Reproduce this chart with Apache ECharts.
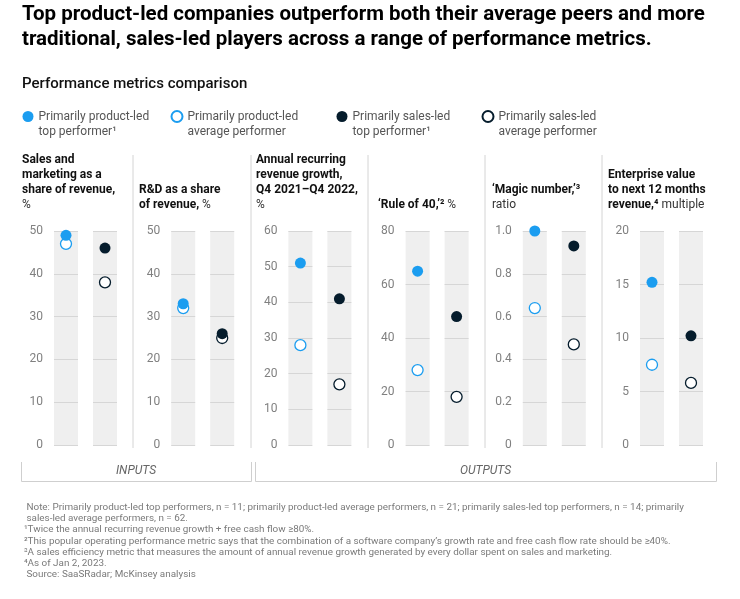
<!DOCTYPE html>
<html>
<head>
<meta charset="utf-8">
<script src="https://cdn.jsdelivr.net/npm/echarts@6/dist/echarts.min.js"></script>
<style>
html,body{margin:0;padding:0;background:#fff;}
#chart{width:740px;height:599px;}
</style>
</head>
<body>
<div id="chart"></div>
<script>
// ---- data ----
const groups = ['Primarily product-led', 'Primarily sales-led'];
const seriesNames = [
  'Primarily product-led\ntop performer\u00b9',
  'Primarily product-led\naverage performer',
  'Primarily sales-led\ntop performer\u00b9',
  'Primarily sales-led\naverage performer'
];
// panels: S&M share, R&D share, ARR growth, Rule of 40, Magic number, EV/NTM revenue
const productTop = [49, 33, 51, 65, 1.0, 15.2];
const productAvg = [47, 32, 28, 28, 0.64, 7.5];
const salesTop   = [46, 26, 41, 48, 0.93, 10.2];
const salesAvg   = [38, 25, 17, 18, 0.47, 5.8];
const axisMax      = [50, 50, 60, 80, 1.0, 20];
const axisInterval = [10, 10, 10, 20, 0.2, 5];
const tickDecimals = [0, 0, 0, 0, 1, 0];
const panelHeaders = [
  [['b','Sales and'],['b','marketing as a'],['b','share of revenue,'],['n','%']],
  [['b','R&D as a share'],['b','of revenue,','n',' %']],
  [['b','Annual recurring'],['b','revenue growth,'],['b','Q4 2021\u2013Q4 2022,'],['n','%']],
  [['b','\u2018Rule of 40,\u2019\u00b2','n',' %']],
  [['b','\u2018Magic number,\u2019\u00b3'],['n','ratio']],
  [['b','Enterprise value'],['b','to next 12 months'],['b','revenue,\u2074','n',' multiple']]
];
const sectionLabels = ['INPUTS', 'OUTPUTS'];
const footnotes = [
  ' Note: Primarily product-led top performers, n = 11; primarily product-led average performers, n = 21; primarily sales-led top performers, n = 14; primarily',
  ' sales-led average performers, n = 62.',
  '\u00b9Twice the annual recurring revenue growth + free cash flow \u226580%.',
  '\u00b2This popular operating performance metric says that the combination of a software company\u2019s growth rate and free cash flow rate should be \u226540%.',
  '\u00b3A sales efficiency metric that measures the amount of annual revenue growth generated by every dollar spent on sales and marketing.',
  '\u2074As of Jan 2, 2023.',
  ' Source: SaaSRadar; McKinsey analysis'
];

// ---- styling / layout ----
const FONT = 'Roboto';
const BLUE = '#1b9df0';
const DARK = '#051c2c';
const GRID_TOP = 231, GRID_H = 214, COL_W = 24;
const panelLeft = p => 54 + 117.2 * p;
const colOffset = [0, 39];

const grids = [], xAxes = [], yAxes = [], series = [];
for (let p = 0; p < 6; p++) {
  for (let c = 0; c < 2; c++) {
    const gi = p * 2 + c;
    grids.push({
      left: panelLeft(p) + colOffset[c], top: GRID_TOP, width: COL_W, height: GRID_H,
      show: true, backgroundColor: '#efefef', borderWidth: 0
    });
    xAxes.push({ type: 'category', gridIndex: gi, data: [groups[c]], show: false });
    const dec = tickDecimals[p];
    yAxes.push({
      type: 'value', gridIndex: gi, min: 0, max: axisMax[p], interval: axisInterval[p],
      axisLine: { show: false }, axisTick: { show: false },
      axisLabel: {
        show: c === 0, color: '#808080', fontSize: 12, fontFamily: FONT, margin: 11,
        formatter: v => (v === 0 ? '0' : v.toFixed(dec))
      },
      splitLine: { show: true, lineStyle: { color: '#d6d6d6', width: 1 } }
    });
    const pairs = c === 0
      ? [[seriesNames[1], productAvg, BLUE, false], [seriesNames[0], productTop, BLUE, true]]
      : [[seriesNames[3], salesAvg, DARK, false], [seriesNames[2], salesTop, DARK, true]];
    pairs.forEach(([name, arr, col, filled]) => {
      series.push({
        name, type: 'scatter', xAxisIndex: gi, yAxisIndex: gi, clip: false,
        symbol: 'circle', symbolSize: 11, z: filled ? 4 : 3,
        itemStyle: filled ? { color: col, opacity: 1 } : { color: '#ffffff', borderColor: col, borderWidth: 1.3, opacity: 1 },
        emphasis: { disabled: true },
        data: [[groups[c], arr[p]]]
      });
    });
  }
}

const legendLefts = [22.5, 170.5, 336.5, 481.5];
const legends = seriesNames.map((n, i) => ({
  data: [n], left: legendLefts[i], top: 94, padding: 0, selectedMode: false,
  icon: 'circle', itemWidth: 11, itemHeight: 11,
  formatter: name => '\n' + name,
  textStyle: { color: '#555', fontSize: 12, fontFamily: FONT, lineHeight: 15 }
}));

const graphics = [];
// panel headers
const headerX = [22, 139, 256, 378, 492, 608];
const rich = {
  b: { fontWeight: 'bold', fontSize: 12, lineHeight: 15, fill: '#111', color: '#111', fontFamily: FONT },
  n: { fontWeight: 'normal', fontSize: 12, lineHeight: 15, fill: '#333', color: '#333', fontFamily: FONT }
};
panelHeaders.forEach((lines, p) => {
  const txt = lines.map(l => {
    let s = '';
    for (let k = 0; k < l.length; k += 2) s += '{' + l[k] + '|' + l[k + 1] + '}';
    return s;
  }).join('\n');
  graphics.push({
    type: 'text', x: headerX[p], y: 212,
    style: { text: txt, rich, align: 'left', verticalAlign: 'bottom', fontFamily: FONT }
  });
});
// dividers
[133, 251, 368, 485, 602].forEach(x => {
  graphics.push({ type: 'line', shape: { x1: x, y1: 155, x2: x, y2: 448 }, style: { stroke: '#d4d4d4', lineWidth: 1 } });
});
// section brackets
const brackets = [[21, 251], [255, 716]];
brackets.forEach(([a, b], i) => {
  graphics.push({ type: 'polyline', shape: { points: [[a + 0.5, 462], [a + 0.5, 481.5], [b + 0.5, 481.5], [b + 0.5, 462]] }, style: { stroke: '#cfcfcf', lineWidth: 1, fill: null } });
  graphics.push({ type: 'text', x: (a + b) / 2, y: 471, style: { text: sectionLabels[i], fontSize: 12, fontStyle: 'italic', fontFamily: FONT, fill: '#666', align: 'center', verticalAlign: 'middle' } });
});
// footnotes
graphics.push({
  type: 'text', x: 24, y: 501.5,
  style: { text: footnotes.join('\n'), fontSize: 9.9, lineHeight: 11.3, fontFamily: FONT, fill: '#7a7a7a', align: 'left', verticalAlign: 'top' }
});

const option = {
  animation: false,
  backgroundColor: '#fff',
  textStyle: { fontFamily: FONT },
  title: [
    { text: 'Top product-led companies outperform both their average peers and more\ntraditional, sales-led players across a range of performance metrics.',
      left: 22, top: 2, padding: 0,
      textStyle: { fontSize: 20.5, fontWeight: 'bold', color: '#000', lineHeight: 25.5, fontFamily: FONT } },
    { text: 'Performance metrics comparison', left: 22, top: 75, padding: 0,
      textStyle: { fontSize: 15, fontWeight: 500, color: '#111', lineHeight: 18, fontFamily: FONT } }
  ],
  legend: legends,
  grid: grids, xAxis: xAxes, yAxis: yAxes, series,
  graphic: graphics
};
const chart = echarts.init(document.getElementById('chart'), null, { renderer: 'canvas' });
chart.setOption(option);
</script>
</body>
</html>
